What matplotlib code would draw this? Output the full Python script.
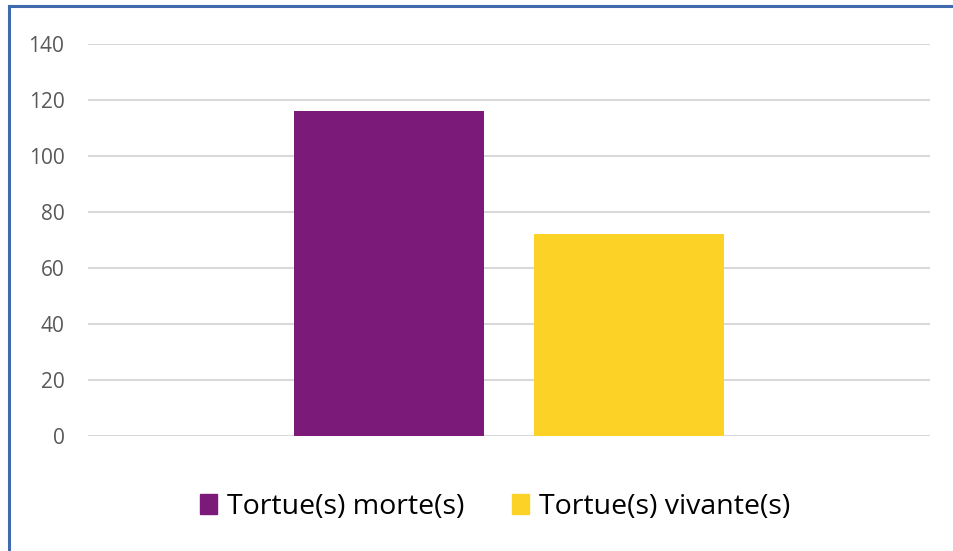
import matplotlib.pyplot as plt
from matplotlib.lines import Line2D
from matplotlib.patches import Patch

# données
categories = ['Tortue(s) morte(s)', 'Tortue(s) vivante(s)']
valeurs = [116, 72]
couleurs = ['#7B1A78', '#FCD226']

plt.rcParams['font.family'] = ['Open Sans', 'DejaVu Sans']

fig = plt.figure(figsize=(9.54, 5.51), dpi=100)
ax = fig.add_axes([88/954, 1-436/551, (930-88)/954, (436-44)/551])

largeur = 0.226
ecart = 0.059
positions = [0.5 - (largeur + ecart)/2, 0.5 + (largeur + ecart)/2]
ax.bar(positions, valeurs, width=largeur, color=couleurs, zorder=3)

ax.set_xlim(0, 1)
ax.set_ylim(0, 140)
ax.set_yticks(range(0, 141, 20))
ax.set_xticks([])
ax.yaxis.grid(True, color='#D9D9D9', linewidth=1.5, zorder=0)
for s in ax.spines.values():
    s.set_visible(False)
ax.tick_params(axis='y', length=0, pad=17, labelsize=15, labelcolor='#595959')

handles = [Patch(color=c) for c in couleurs]
fig.legend(handles, categories, loc='center', bbox_to_anchor=(0.519, 1-507/551),
           ncol=2, frameon=False, fontsize=20.5, handlelength=0.6, handleheight=0.67,
           handletextpad=0.35, columnspacing=1.7, borderaxespad=0)

# cadre bleu (haut et gauche)
fig.add_artist(Line2D([9/954, 9/954], [0, 1-6/551], color='#3F6BAE', linewidth=2.2))
fig.add_artist(Line2D([9/954, 1], [1-6/551, 1-6/551], color='#3F6BAE', linewidth=2.2))

plt.savefig('out.png')
